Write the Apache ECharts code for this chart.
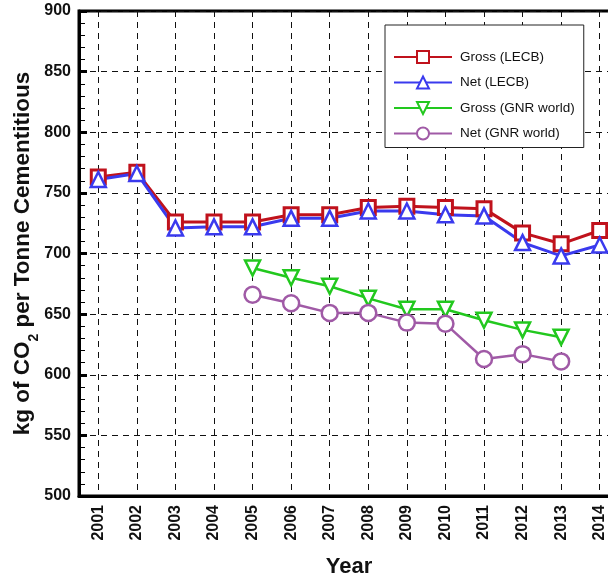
<!DOCTYPE html>
<html>
<head>
<meta charset="utf-8">
<script src="https://cdn.jsdelivr.net/npm/echarts@6/dist/echarts.min.js"></script>
<style>html,body{margin:0;padding:0;background:#fff;}#c{width:608px;height:581px;}</style>
</head>
<body>
<div id="c"></div>
<script>
var years = ['2001','2002','2003','2004','2005','2006','2007','2008','2009','2010','2011','2012','2013','2014'];
var grossLECB = [763, 767, 726, 726, 726, 732, 732, 738, 739, 738, 737, 717, 708, 719];
var netLECB   = [761, 766, 721, 722, 722, 729, 729, 735, 735, 732, 731, 709, 698, 707];
var grossGNR  = [null, null, null, null, 688, 680, 673, 663, 654, 654, 645, 637, 631, null];
var netGNR    = [null, null, null, null, 666, 659, 651, 651, 643, 642, 613, 617, 611, null];
var yTicks = [500, 550, 600, 650, 700, 750, 800, 850, 900];

var FONT = 'Liberation Sans, Arial, sans-serif';
var chart = echarts.init(document.getElementById('c'), null, {renderer:'canvas'});
var downTri = 'path://M0,0 L20,0 L10,18 Z';

function mk(name, data, color, symbol, size, lw, sym_bw) {
  return {
    name: name, type: 'line', data: data,
    symbol: symbol, symbolSize: size,
    lineStyle: {color: color, width: lw},
    itemStyle: {color: '#fff', borderColor: color, borderWidth: sym_bw},
    emphasis: {disabled: true},
    z: 3
  };
}

chart.setOption({
  animation: false,
  backgroundColor: '#fff',
  grid: {left: 79, top: 11, bottom: 85, width: 540, outerBoundsMode: 'none', containLabel: false,
         show: true, borderColor: '#000', borderWidth: 3, backgroundColor: 'transparent'},
  legend: {
    show: true,
    left: 385, top: 25,
    orient: 'vertical',
    padding: [25, 9, 7, 8],
    itemWidth: 58, itemHeight: 15, itemGap: 11.5,
    backgroundColor: '#fff',
    borderColor: '#222', borderWidth: 1, borderRadius: 0,
    textStyle: {fontFamily: FONT, fontSize: 13.5, color: '#111', padding: [0,0,0,3]},
    data: ['Gross (LECB)', 'Net (LECB)', 'Gross (GNR world)', 'Net (GNR world)']
  },
  xAxis: {
    type: 'category', data: years, boundaryGap: true,
    name: 'Year', nameLocation: 'middle', nameGap: 60,
    nameTextStyle: {fontFamily: FONT, fontSize: 22, fontWeight: 'bold', color: '#111'},
    axisLine: {show: true, lineStyle: {color: '#000', width: 3}},
    axisTick: {show: false},
    axisLabel: {rotate: 90, margin: 9, fontFamily: FONT, fontSize: 16, fontWeight: 'bold', color: '#111'},
    splitLine: {show: true, alignWithLabel: true, lineStyle: {color: '#111', type: [6, 5], width: 1}}
  },
  yAxis: {
    type: 'value', min: 500, max: 900, interval: 50,
    name: '{a|kg of CO}{s|2}{a| per Tonne Cementitious}', nameLocation: 'middle', nameGap: 45,
    nameMoveOverlap: false,
    nameTextStyle: {
      rich: {
        a: {fontFamily: FONT, fontSize: 22.5, fontWeight: 'bold', color: '#111', lineHeight: 26, verticalAlign: 'bottom'},
        s: {fontFamily: FONT, fontSize: 14, fontWeight: 'bold', color: '#111', lineHeight: 26, verticalAlign: 'bottom', padding: [0,0,-7,0]}
      }
    },
    axisLine: {show: true, lineStyle: {color: '#000', width: 3}},
    axisTick: {show: true, inside: true, length: 8, lineStyle: {color: '#000', width: 3}},
    minorTick: {show: true, splitNumber: 5, length: 6, lineStyle: {color: '#000', width: 1}},
    axisLabel: {margin: 8, fontFamily: FONT, fontSize: 16, fontWeight: 'bold', color: '#111',
      formatter: function(v){ return yTicks.indexOf(v) >= 0 ? String(v) : ''; }},
    splitLine: {show: true, lineStyle: {color: '#111', type: [6, 5], width: 1}}
  },
  series: [
    mk('Gross (LECB)', grossLECB, '#c0121c', 'rect', 14, 3, 3),
    mk('Net (LECB)', netLECB, '#3a3aee', 'triangle', 15, 3, 2.5),
    mk('Gross (GNR world)', grossGNR, '#22c81e', downTri, 15, 2.5, 2.5),
    mk('Net (GNR world)', netGNR, '#a05aa6', 'circle', 16, 2.5, 2.5)
  ]
});
</script>
</body>
</html>
